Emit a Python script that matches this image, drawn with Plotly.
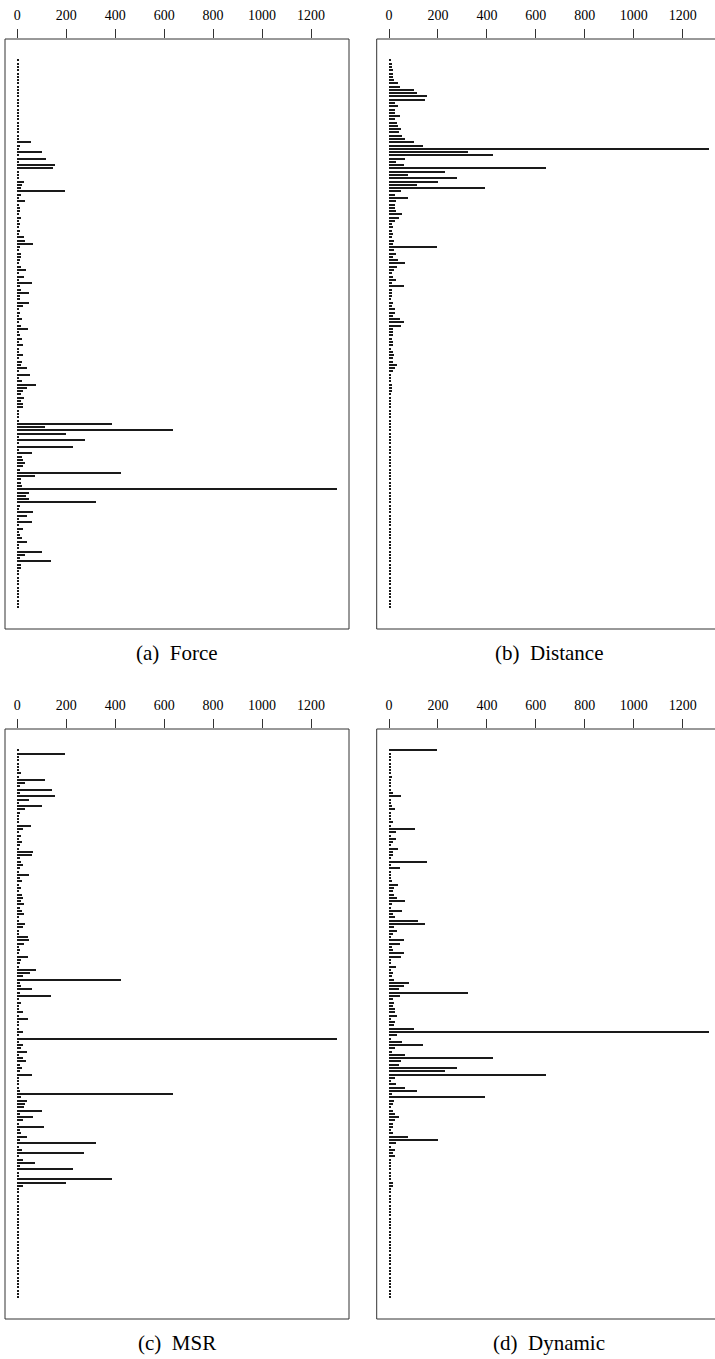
import plotly.graph_objects as go

# ---- data: per-row values for each ordering (top to bottom) ----
force = [6,5,6,5,6,5,6,6,5,6,5,6,5,6,6,5,6,5,6,4,5,4,5,4,
         8,56,10,4,100,3,116,8,154,144,4,4,4,26,19,14,193,15,5,31,5,10,10,7,14,4,12,5,11,5,29,
         30,63,10,5,15,16,10,5,14,34,5,26,8,58,12,15,46,11,12,46,22,5,12,8,19,5,14,42,5,12,
         18,4,22,7,8,24,5,18,15,39,8,52,5,19,76,38,23,14,26,15,22,24,5,4,
         4,8,388,112,638,201,4,275,5,229,5,58,20,24,30,23,10,422,73,14,14,20,1306,49,35,46,320,11,5,63,
         41,4,60,5,22,4,12,20,38,5,4,99,30,12,136,14,14,7,7,5,7,5,7,5,7,7,5,7,7]

distance = [4,10,12,14,14,14,18,34,42,102,114,155,144,22,37,22,22,42,23,30,
            34,46,41,50,63,102,139,1306,320,423,65,27,61,639,229,78,275,201,112,389,
            46,22,75,26,24,
            24,26,53,38,24,12,14,10,15,10,19,15,193,18,26,16,34,63,30,19,
            12,15,26,11,58,11,11,10,8,14,11,22,22,15,42,60,46,14,14,14,
            10,16,14,8,14,20,14,14,30,23,16,8,5,7,12,11,10,8,7,
            5,4,5,5,4,5,4,5,5,4,4,5,4,5,5,4,4,5,4,4,5,4,4,5,4,4,3,3,4,3,
            3,4,3,3,4,4,5,4,5,4,5,4,5,5,4,5,4,5,4,5,4,5,4,5,4,5,4,4,5,4,5,4,5,4]

msr = [4,193,3,4,7,5,5,15,5,114,31,10,143,12,154,48,4,101,30,12,
       4,4,4,56,24,4,14,4,18,12,8,63,58,10,15,23,11,5,46,10,
       18,3,16,5,20,24,14,26,11,19,
       27,4,8,33,23,8,5,45,46,26,5,11,4,42,14,10,8,76,52,22,
       422,10,14,58,10,136,8,14,4,4,22,4,42,5,5,4,22,4,1306,5,
       22,14,39,5,23,34,10,18,12,61,4,4,4,4,10,638,14,38,31,29,
       99,10,63,22,8,110,10,14,38,11,320,4,18,273,4,22,73,12,229,3,4,388,200,22,3,
       4,3,4,3,4,4,3,4,4,3,4,4,3,4,4,4,3,4,4,3,4,4,4,3,4,4,3,4,4,3,4,4,4]

dynamic = [193,3,4,5,3,3,3,3,10,4,4,4,5,15,46,7,8,12,23,3,
           3,3,14,4,103,27,5,26,14,5,34,15,14,4,156,3,44,7,5,5,
           10,34,18,15,19,31,64,10,7,53,14,24,116,144,20,30,16,5,58,44,
           10,14,60,48,8,5,27,8,15,12,19,79,61,38,321,42,15,18,14,
           22,22,33,4,22,18,102,1306,30,5,50,139,22,12,65,423,46,39,275,229,
           639,24,8,27,63,112,10,389,19,14,5,14,22,41,23,15,16,8,15,75,
           201,26,8,24,14,23,4,4,5,4,4,4,3,15,14,
           4,4,3,4,4,3,4,4,4,3,4,4,3,4,4,4,3,4,4,3,4,4,4,3,4,4,3,4,4,4,3,4,4,3]

captions = ["(a)\u2002Force", "(b)\u2002Distance", "(c)\u2002MSR", "(d)\u2002Dynamic"]
tick_vals = [0, 200, 400, 600, 800, 1000, 1200]
tick_text = ["0", "200", "400", "600", "800", "1000", "1200"]

W, H = 715, 1359
series = [force, distance, msr, dynamic]

# panel frames in pixels: (x0, x1, y0, y1)
panels = [(5, 349, 39, 629), (376.7, 720.7, 39, 629),
          (5, 349, 729, 1319), (376.7, 720.7, 729, 1319)]
px_per_unit = 48.95 / 200.0
zero_off = 12.3  # px from left frame to zero

fig = go.Figure()
layout = dict(width=W, height=H, margin=dict(l=0, r=0, t=0, b=0),
              paper_bgcolor="white", plot_bgcolor="white", showlegend=False,
              bargap=0, shapes=[], annotations=[])

for i, (vals, (x0, x1, y0, y1)) in enumerate(zip(series, panels)):
    n = i + 1
    xa = "x" if n == 1 else f"x{n}"
    ya = "y" if n == 1 else f"y{n}"
    rows = list(range(len(vals)))
    fig.add_trace(go.Bar(x=vals, y=rows, orientation="h", width=0.33,
                         marker=dict(color="#1a1a1a", line=dict(width=0)),
                         xaxis=xa, yaxis=ya, hoverinfo="skip"))
    dx1 = min(x1, W)
    xmin = -zero_off / px_per_unit
    xmax = (dx1 - x0 - zero_off) / px_per_unit
    pitch = 546.7 / 167
    first_row_px = y0 + 21.5
    ytop = (y0 - first_row_px) / pitch
    ybot = (y1 - first_row_px) / pitch
    layout["xaxis" if n == 1 else f"xaxis{n}"] = dict(
        domain=[x0 / W, dx1 / W], range=[xmin, xmax], side="top",
        anchor=ya, showgrid=False, zeroline=False, showline=False,
        ticks="outside", ticklen=9, tickwidth=1, tickcolor="#333",
        tickvals=tick_vals, ticktext=tick_text, ticklabelstandoff=3,
        tickfont=dict(family="Liberation Serif", size=14, color="black"))
    layout["yaxis" if n == 1 else f"yaxis{n}"] = dict(
        domain=[1 - y1 / H, 1 - y0 / H], range=[ybot, ytop], anchor=xa,
        showgrid=False, zeroline=False, showline=False, showticklabels=False,
        ticks="")
    layout["shapes"].append(dict(type="rect", xref="paper", yref="paper",
                                 x0=x0 / W, x1=x1 / W, y0=1 - y1 / H, y1=1 - y0 / H,
                                 line=dict(color="#333", width=1),
                                 fillcolor="rgba(0,0,0,0)", layer="above"))
    layout["annotations"].append(dict(text=captions[i], xref="paper", yref="paper",
                                      x=((x0 + x1) / 2) / W, y=1 - (y1 + 23.5) / H,
                                      xanchor="center", yanchor="middle", showarrow=False,
                                      font=dict(family="Liberation Serif", size=21, color="black")))

fig.update_layout(**layout)
fig.write_html("out.html", config={"displayModeBar": False},
               post_script="document.body.style.margin='0px';document.body.style.overflow='hidden';")
